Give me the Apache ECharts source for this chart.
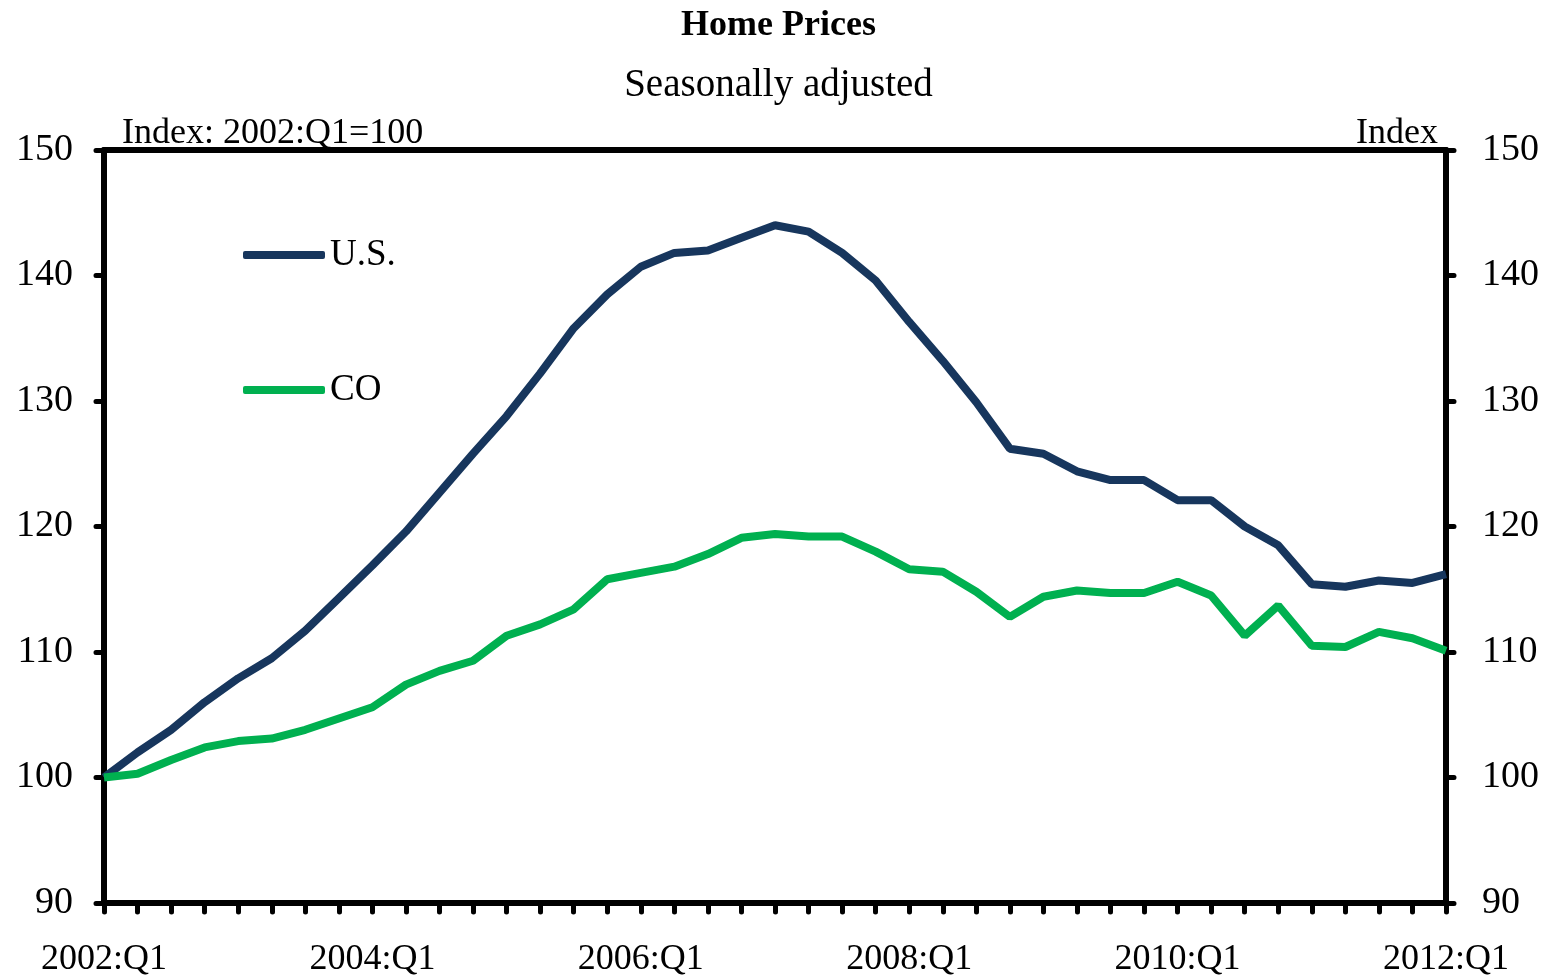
<!DOCTYPE html>
<html>
<head>
<meta charset="utf-8">
<title>Home Prices</title>
<script src="https://cdn.jsdelivr.net/npm/echarts@6/dist/echarts.min.js"></script>
<style>
  html, body { margin: 0; padding: 0; background: #fff; }
  #chart { width: 1557px; height: 978px; }
</style>
</head>
<body>
<div id="chart"></div>
<script>
// quarters 2002:Q1 .. 2012:Q1
var quarters = [];
for (var y = 2002; y <= 2012; y++) {
    for (var q = 1; q <= 4; q++) {
        if (y === 2012 && q > 1) break;
        quarters.push(y + ':Q' + q);
    }
}

var usIndex = [100.0, 102.0, 103.8, 106.0, 107.9, 109.5, 111.7, 114.3, 116.9, 119.6,
               122.7, 125.8, 128.8, 132.2, 135.8, 138.5, 140.7, 141.8, 142.0, 143.0,
               144.0, 143.5, 141.8, 139.6, 136.3, 133.2, 129.9, 126.2, 125.8, 124.4,
               123.7, 123.7, 122.1, 122.1, 120.0, 118.5, 115.4, 115.2, 115.7, 115.5,
               116.2];

var coIndex = [100.0, 100.3, 101.4, 102.4, 102.9, 103.1, 103.8, 104.7, 105.6, 107.4,
               108.5, 109.3, 111.3, 112.2, 113.4, 115.8, 116.3, 116.8, 117.8, 119.1,
               119.4, 119.2, 119.2, 118.0, 116.6, 116.4, 114.8, 112.8, 114.4, 114.9,
               114.7, 114.7, 115.6, 114.5, 111.3, 113.7, 110.5, 110.4, 111.6, 111.1,
               110.1];

var yTicks = { min: 90, max: 150, interval: 10 };

var font = 'Liberation Serif';
var axisLineStyle = { color: '#000', width: 6, cap: 'round' };

var chart = echarts.init(document.getElementById('chart'));

var option = {
    backgroundColor: '#fff',
    animation: false,
    title: {
        text: 'Home Prices',
        subtext: 'Seasonally adjusted',
        left: 'center',
        top: 3,
        itemGap: 22,
        textStyle: { fontFamily: font, fontSize: 36, fontWeight: 'bold', color: '#000' },
        subtextStyle: { fontFamily: font, fontSize: 39, color: '#000' }
    },
    legend: {
        orient: 'vertical',
        left: 238,
        top: 227,
        itemGap: 89,
        itemWidth: 82,
        itemHeight: 8,
        icon: 'roundRect',
        textStyle: { fontFamily: font, fontSize: 37, color: '#000', lineHeight: 40, padding: [6, 0, 0, 0] },
        data: ['U.S.', 'CO']
    },
    grid: { left: 104, right: 111, top: 150, bottom: 72 },
    xAxis: [{
        type: 'category',
        data: quarters,
        boundaryGap: false,
        position: 'bottom',
        axisLine: { lineStyle: axisLineStyle },
        axisTick: { show: true, interval: 0, length: 9, lineStyle: { color: '#000', width: 5, cap: 'round' } },
        axisLabel: {
            interval: 7, margin: 39, color: '#000',
            fontFamily: font, fontSize: 36
        },
        splitLine: { show: false }
    }, {
        type: 'category',
        data: quarters,
        boundaryGap: false,
        position: 'top',
        axisLine: { lineStyle: axisLineStyle },
        axisTick: { show: false },
        axisLabel: { show: false },
        splitLine: { show: false }
    }],
    yAxis: [{
        type: 'value',
        position: 'left',
        min: yTicks.min, max: yTicks.max, interval: yTicks.interval,
        name: 'Index: 2002:Q1=100',
        nameLocation: 'end',
        nameGap: -2,
        nameTextStyle: { fontFamily: font, fontSize: 36, color: '#000', align: 'left', verticalAlign: 'bottom', padding: [0, 0, 0, 18] },
        axisLine: { show: true, lineStyle: axisLineStyle },
        axisTick: { show: true, length: 8, lineStyle: { color: '#000', width: 5, cap: 'round' } },
        axisLabel: { margin: 31, color: '#000', fontFamily: font, fontSize: 38 },
        splitLine: { show: false }
    }, {
        type: 'value',
        position: 'right',
        min: yTicks.min, max: yTicks.max, interval: yTicks.interval,
        name: 'Index',
        nameLocation: 'end',
        nameGap: -2,
        nameTextStyle: { fontFamily: font, fontSize: 36, color: '#000', align: 'right', verticalAlign: 'bottom', padding: [0, 8, 0, 0] },
        axisLine: { show: true, lineStyle: axisLineStyle },
        axisTick: { show: true, length: 8, lineStyle: { color: '#000', width: 5, cap: 'round' } },
        axisLabel: { margin: 36, color: '#000', fontFamily: font, fontSize: 38 },
        splitLine: { show: false }
    }],
    series: [{
        name: 'U.S.',
        type: 'line',
        data: usIndex,
        xAxisIndex: 0,
        yAxisIndex: 0,
        symbol: 'none',
        color: '#17365d',
        lineStyle: { width: 8, color: '#17365d' },
        z: 2
    }, {
        name: 'CO',
        type: 'line',
        data: coIndex,
        xAxisIndex: 0,
        yAxisIndex: 0,
        symbol: 'none',
        color: '#00b050',
        lineStyle: { width: 8, color: '#00b050' },
        z: 3
    }]
};

chart.setOption(option);
</script>
</body>
</html>
